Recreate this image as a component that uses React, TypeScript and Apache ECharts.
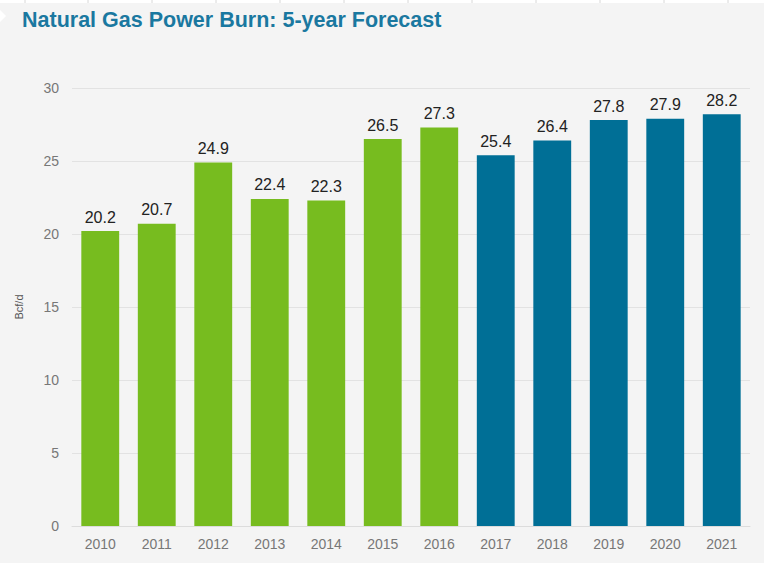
import React, { useEffect, useRef } from "react";
import * as echarts from "echarts";

const years = ["2010", "2011", "2012", "2013", "2014", "2015", "2016", "2017", "2018", "2019", "2020", "2021"];
const historical = [20.2, 20.7, 24.9, 22.4, 22.3, 26.5, 27.3, null, null, null, null, null];
const forecast = [null, null, null, null, null, null, null, 25.4, 26.4, 27.8, 27.9, 28.2];
const yTicks = [0, 5, 10, 15, 20, 25, 30];

export default function App() {
  const ref = useRef<HTMLDivElement>(null);
  useEffect(() => {
    const chart = echarts.init(ref.current!, null, { renderer: "svg" });
    const labelCfg = {
      show: true,
      position: "top",
      distance: 6,
      color: "#222",
      fontSize: 16,
      fontFamily: "Liberation Sans, Arial, sans-serif",
      formatter: (p: any) => p.value.toFixed(1),
    };
    const topLines = [25, 88, 152, 216, 280, 344, 408, 472, 536, 600, 664, 728].map((x) => ({
      type: "line",
      shape: { x1: x, y1: 0, x2: x, y2: 3 },
      style: { stroke: "#d8d8d8", lineWidth: 1 },
    }));
    chart.setOption({
      animation: false,
      backgroundColor: "#f4f4f4",
      title: {
        text: "Natural Gas Power Burn: 5-year Forecast",
        left: 17,
        top: 4,
        textStyle: {
          color: "#1a78a0",
          fontSize: 21.5,
          fontWeight: "bold",
          fontFamily: "Liberation Sans, Arial, sans-serif",
        },
      },
      graphic: [
        { type: "rect", shape: { x: 0, y: 0, width: 764, height: 3 }, style: { fill: "#ffffff" } },
        ...topLines,
        { type: "polygon", shape: { points: [[0, 10], [6, 16], [0, 22]] }, style: { fill: "#ffffff" } },
      ],
      grid: { left: 72, right: 14, top: 88, bottom: 37, containLabel: false },
      xAxis: {
        type: "category",
        data: years,
        axisLine: { show: true, lineStyle: { color: "#dcdcdc", width: 1 } },
        axisTick: { show: false },
        axisLabel: {
          color: "#777",
          fontSize: 14,
          margin: 11,
          fontFamily: "Liberation Sans, Arial, sans-serif",
        },
      },
      yAxis: {
        type: "value",
        min: 0,
        max: 30,
        interval: 5,
        name: "Bcf/d",
        nameLocation: "middle",
        nameRotate: 90,
        nameGap: 48,
        nameTextStyle: { color: "#555", fontSize: 11, fontFamily: "Liberation Sans, Arial, sans-serif" },
        axisLine: { show: false },
        axisTick: { show: false },
        axisLabel: {
          color: "#777",
          fontSize: 14,
          margin: 13,
          fontFamily: "Liberation Sans, Arial, sans-serif",
          formatter: (v: number) => (yTicks.includes(v) ? String(v) : ""),
        },
        splitLine: { lineStyle: { color: "#e2e2e2", width: 1 } },
      },
      series: [
        {
          type: "bar",
          data: historical,
          stack: "a",
          barWidth: "67%",
          itemStyle: { color: "#77bc1f" },
          label: labelCfg,
        },
        {
          type: "bar",
          data: forecast,
          stack: "a",
          barWidth: "67%",
          itemStyle: { color: "#006f96" },
          label: labelCfg,
        },
      ],
    });
    return () => chart.dispose();
  }, []);
  return <div ref={ref} style={{ position: "fixed", left: 0, top: 0, width: 764, height: 563 }} />;
}
